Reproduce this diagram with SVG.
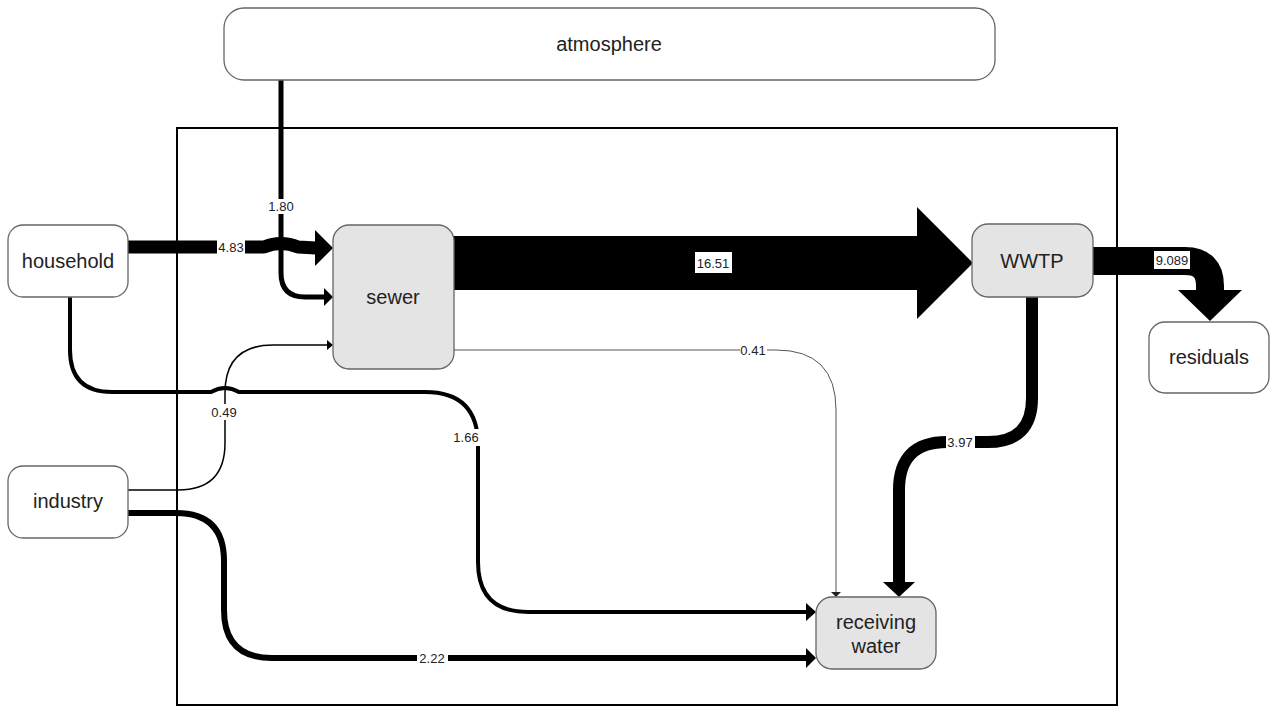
<svg xmlns="http://www.w3.org/2000/svg" width="1271" height="706" viewBox="0 0 1271 706">
<style>
.node{stroke:#666;stroke-width:1.3;fill:#fff}
.proc{fill:#e4e4e4}
.nt{font-family:"Liberation Sans",Arial,sans-serif;font-size:20px;fill:#222;text-anchor:middle}
.et{font-family:"Liberation Sans",Arial,sans-serif;font-size:13px;fill:#222;text-anchor:middle}
.flow{fill:none;stroke:#000;stroke-linecap:butt;stroke-linejoin:round}
.thin{fill:none;stroke:#555;stroke-width:1}
.head{fill:#000}
.lb{fill:#fff}
</style>
<rect x="0" y="0" width="1271" height="706" fill="#fff"/>
<rect id="boundary" x="177" y="128" width="940" height="577" fill="none" stroke="#000" stroke-width="2"/>
<g id="connectors">
  <!-- sewer -> WWTP 16.51 -->
  <polygon points="454,236 917,236 917,207 973,263 917,319 917,290 454,290" fill="#000"/>
  <!-- household -> sewer 4.83 -->
  <path class="flow" stroke-width="13" d="M128,247 L264,247 Q281,240 298,247 L316,248"/>
  <polygon class="head" points="315,230 333,248 315,266"/>
  <!-- atmosphere -> sewer 1.80 -->
  <path class="flow" stroke-width="5" d="M281,80 L281,273 Q281,297 305,297 L326,297"/>
  <polygon class="head" points="324,288 333,297 324,306"/>
  <!-- industry -> sewer 0.49 -->
  <path class="flow" stroke-width="1.5" d="M128,490 L178,490 Q225,490 225,443 L225,393 Q225,345 273,345 L328,345"/>
  <polygon class="head" points="327,340 333,345 327,350"/>
  <!-- household -> receiving water 1.66 -->
  <path class="flow" stroke-width="4" d="M70,297 L70,350 Q70,392 112,392 L211,392 Q225,384 239,392 L425,392 Q478,392 478,445 L478,562 Q478,612 528,612 L808,612"/>
  <polygon class="head" points="806,603 816,612 806,621"/>
  <!-- industry -> receiving water 2.22 -->
  <path class="flow" stroke-width="6" d="M128,513 L176,513 Q224,513 224,561 L224,610 Q224,658 272,658 L808,658"/>
  <polygon class="head" points="806,648 816,658 806,668"/>
  <!-- sewer -> receiving water 0.41 -->
  <path class="thin" d="M454,350 L776,350 Q836,350 836,410 L836,592"/>
  <polygon points="831,592 841,592 836,597" fill="#222"/>
  <!-- WWTP -> receiving water 3.97 -->
  <path class="flow" stroke-width="12" d="M1032,297 L1032,398 Q1032,442 988,442 L947,442 Q899,442 899,490 L899,583"/>
  <polygon class="head" points="883,582 915,582 899,597"/>
  <!-- WWTP -> residuals 9.089 -->
  <path class="flow" stroke-width="28" d="M1093,261 L1185,261 Q1210,261 1210,286 L1210,291"/>
  <polygon class="head" points="1178,290 1242,290 1210,321"/>
  <!-- labels -->
  <rect class="lb" x="217" y="240" width="28" height="15"/>
  <text class="et" x="231" y="251.5">4.83</text>
  <rect class="lb" x="267" y="199" width="28" height="15"/>
  <text class="et" x="281" y="210.5">1.80</text>
  <rect class="lb" x="695" y="252" width="37" height="21"/>
  <text class="et" x="713" y="267.5">16.51</text>
  <rect class="lb" x="1154" y="251" width="36" height="18"/>
  <text class="et" x="1172" y="264.5">9.089</text>
  <rect class="lb" x="740" y="343" width="27" height="14"/>
  <text class="et" x="753" y="354.5">0.41</text>
  <rect class="lb" x="211" y="404" width="27" height="16"/>
  <text class="et" x="224" y="416.5">0.49</text>
  <rect class="lb" x="452" y="429" width="28" height="17"/>
  <text class="et" x="466" y="441.5">1.66</text>
  <rect class="lb" x="946" y="434" width="29" height="16"/>
  <text class="et" x="960" y="446.5">3.97</text>
  <rect class="lb" x="417" y="650" width="31" height="16"/>
  <text class="et" x="432" y="662.5">2.22</text>
</g>
<g id="atmosphere"><rect class="node" x="224" y="8" width="771" height="72" rx="20"/><text class="nt" x="609" y="51">atmosphere</text></g>
<g id="household"><rect class="node" x="8" y="225" width="120" height="72" rx="15"/><text class="nt" x="68" y="268">household</text></g>
<g id="industry"><rect class="node" x="8" y="466" width="120" height="72" rx="15"/><text class="nt" x="68" y="508">industry</text></g>
<g id="sewer"><rect class="node proc" x="333" y="225" width="121" height="144" rx="16"/><text class="nt" x="393" y="304">sewer</text></g>
<g id="wwtp"><rect class="node proc" x="972" y="224" width="121" height="73" rx="16"/><text class="nt" x="1032" y="268">WWTP</text></g>
<g id="residuals"><rect class="node" x="1149" y="322" width="120" height="71" rx="16"/><text class="nt" x="1209" y="364">residuals</text></g>
<g id="receiving-water"><rect class="node proc" x="816" y="597" width="120" height="72" rx="16"/><text class="nt" x="876" y="629">receiving</text><text class="nt" x="876" y="653">water</text></g>
</svg>
